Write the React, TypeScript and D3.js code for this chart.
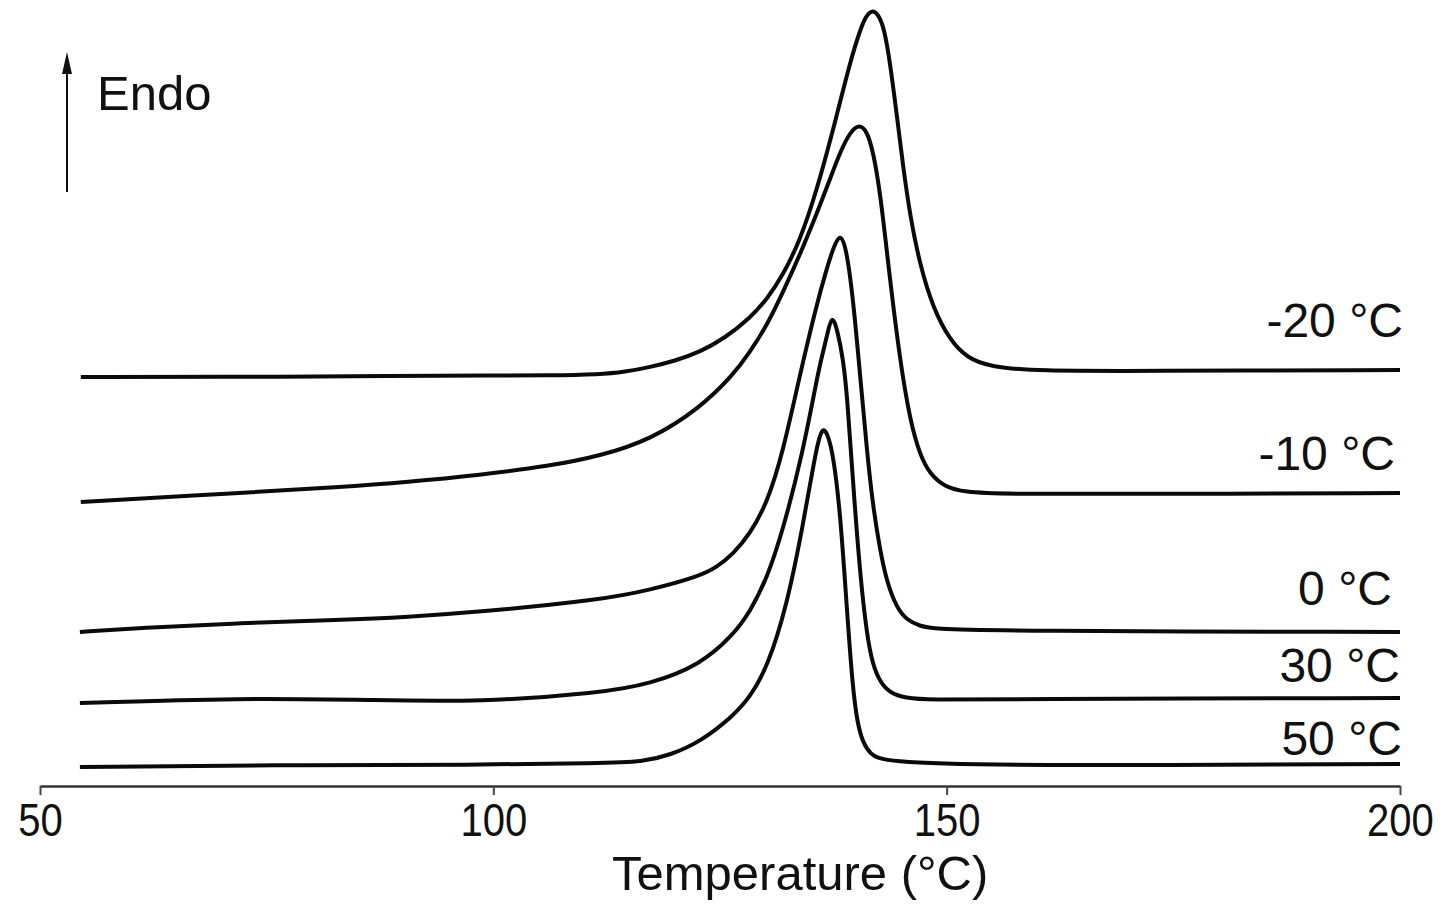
import { useEffect, useRef } from "react";
import * as d3 from "d3";

// DSC heating curves, heat flow in arbitrary units (endo up), one per crystallisation temperature
const temperatureTicks = [50, 100, 150, 200];
const seriesLabels = ["-20 °C", "-10 °C", "0 °C", "30 °C", "50 °C"];

const curveMinus20: [number, number][] = [
  [54.5, 40.9], [70, 40.9], [90, 41.0], [100, 41.05], [106, 41.05],
  [111.8, 41.15], [114.5, 41.4], [117.3, 41.9], [120, 42.5], [122.8, 43.4],
  [125.55, 44.8], [128.3, 46.8], [130.2, 48.7], [131.95, 51.1], [133.8, 54.5],
  [135.7, 59.6], [137.9, 67.1], [139.35, 72.4], [140.45, 75.6], [141.1, 77.0],
  [141.75, 77.6], [142.45, 77.2], [143.1, 75.8], [143.75, 72.4], [144.5, 67.1],
  [145.2, 61.9], [145.95, 57.1], [147.05, 52.1], [148.5, 47.8], [150.35, 44.6],
  [152.25, 42.8], [154.8, 41.9], [160.3, 41.5], [171, 41.5], [200, 41.6],
];

const curveMinus10: [number, number][] = [
  [54.5, 28.4], [72.1, 29.3], [83.1, 29.9], [90.5, 30.4], [98.5, 31.1],
  [106.25, 32.0], [111.75, 33.0], [117.3, 34.6], [122.8, 37.8], [126.45, 41.1],
  [128.3, 43.4], [130.2, 46.1], [131.95, 49.4], [133.8, 53.1], [135.7, 57.3],
  [137.1, 60.6], [138.25, 63.4], [139.35, 65.4], [140.35, 66.2], [141.2, 65.5],
  [141.85, 63.6], [142.65, 59.6], [143.75, 50.6], [144.85, 42.6], [145.95, 36.6],
  [147.05, 33.1], [148.15, 31.2], [149.8, 29.9], [152.0, 29.4], [155.9, 29.2],
  [171.3, 29.2], [200, 29.3],
];

const curveZero: [number, number][] = [
  [54.4, 15.4], [61.0, 15.8], [72.1, 16.3], [83.1, 16.6], [90.5, 16.9],
  [98.5, 17.4], [111.75, 18.6], [117.3, 19.6], [122.8, 21.0], [124.65, 21.9],
  [126.45, 23.2], [128.3, 25.2], [130.2, 28.3], [131.95, 33.4], [133.8, 41.1],
  [135.7, 48.3], [136.8, 51.8], [137.45, 53.7], [138.25, 55.35], [138.9, 53.9],
  [139.65, 49.1], [140.55, 40.1], [141.2, 33.6], [141.85, 28.1], [142.65, 23.6],
  [143.4, 20.4], [144.5, 17.8], [145.6, 16.6], [147.05, 16.0], [148.5, 15.7],
  [155.9, 15.5], [200, 15.4],
];

const curveThirty: [number, number][] = [
  [54.4, 8.3], [72.1, 8.8], [86.7, 8.6], [98.5, 8.4], [111.75, 9.3],
  [117.3, 10.2], [122.8, 12.1], [126.45, 15.1], [128.3, 17.4], [130.2, 20.8],
  [131.95, 25.6], [134.15, 33.4], [135.7, 40.8], [136.25, 43.0], [136.8, 45.0],
  [137.35, 47.3], [138.0, 45.4], [138.55, 42.8], [139.0, 39.4], [139.65, 30.6],
  [140.45, 21.1], [141.2, 15.1], [141.85, 12.1], [142.65, 10.4], [143.75, 9.3],
  [145.4, 8.8], [148.15, 8.6], [155.9, 8.7], [200, 8.8],
];

const curveFifty: [number, number][] = [
  [54.4, 1.9], [75.7, 2.1], [98.5, 2.1], [111.75, 2.3], [116.5, 2.4],
  [119.5, 3.1], [122.8, 4.4], [126.45, 7.0], [128.3, 8.9], [130.2, 11.8],
  [132.4, 18.1], [134.15, 26.1], [135.25, 31.8], [135.8, 34.4], [136.35, 35.95],
  [136.9, 35.1], [137.45, 33.3], [138.25, 27.6], [139.0, 17.6], [139.65, 9.6],
  [140.2, 6.1], [140.75, 4.4], [141.55, 3.2], [143.0, 2.4], [155.9, 2.0],
  [200, 2.2],
];

const allCurves = [curveMinus20, curveMinus10, curveZero, curveThirty, curveFifty];

// label nudges relative to the right end of each curve (pixels)
const labelDx = [3, -5, -8, 0, 2];
const labelDy = [-33, -23, -27, -16, -9];

const FONT = "'Liberation Sans', Arial, sans-serif";

export default function App() {
  const svgRef = useRef<SVGSVGElement | null>(null);

  useEffect(() => {
    if (!svgRef.current) return;
    const svg = d3.select(svgRef.current);
    svg.selectAll("*").remove();

    const width = 1446;
    const height = 905;
    svg.attr("viewBox", `0 0 ${width} ${height}`);

    const x = d3.scaleLinear().domain([50, 200]).range([40, 1400]);
    const y = d3.scaleLinear().domain([0, 80]).range([786, -14]);

    const line = d3
      .line<[number, number]>()
      .x((d) => x(d[0]))
      .y((d) => y(d[1]))
      .curve(d3.curveBasis);

    svg
      .append("g")
      .selectAll("path")
      .data(allCurves)
      .join("path")
      .attr("d", (d) => line(d) ?? "")
      .attr("fill", "none")
      .attr("stroke", "#0a0a0a")
      .attr("stroke-width", 4)
      .attr("stroke-linejoin", "round");

    // curve labels
    svg
      .append("g")
      .selectAll("text")
      .data(seriesLabels)
      .join("text")
      .attr("x", (_, i) => x(200) + labelDx[i])
      .attr("y", (_, i) => y(allCurves[i][allCurves[i].length - 1][1]) + labelDy[i])
      .attr("text-anchor", "end")
      .attr("font-family", FONT)
      .attr("font-size", 48)
      .attr("fill", "#111")
      .text((d) => d);

    // x axis
    const axis = svg
      .append("g")
      .attr("transform", `translate(0,${y(0)})`)
      .call(
        d3
          .axisBottom(x)
          .tickValues(temperatureTicks)
          .tickSize(9)
          .tickSizeOuter(0)
          .tickFormat(d3.format("d")),
      );
    axis.select(".domain").attr("stroke", "#333").attr("stroke-width", 2.5);
    axis.selectAll(".tick line").attr("stroke", "#444").attr("stroke-width", 2);
    axis
      .selectAll(".tick text")
      .attr("y", 17)
      .attr("font-family", FONT)
      .attr("font-size", 46)
      .attr("fill", "#111")
      .attr("transform", "scale(0.87,1)");

    svg
      .append("text")
      .attr("x", 612)
      .attr("y", 890)
      .attr("font-family", FONT)
      .attr("font-size", 49)
      .attr("fill", "#111")
      .text("Temperature (°C)");

    // Endo arrow
    svg
      .append("line")
      .attr("x1", 67)
      .attr("x2", 67)
      .attr("y1", 192)
      .attr("y2", 66)
      .attr("stroke", "#111")
      .attr("stroke-width", 2);
    svg
      .append("path")
      .attr("d", "M67,52 L62,74 L72,74 Z")
      .attr("fill", "#111");
    svg
      .append("text")
      .attr("x", 97)
      .attr("y", 110)
      .attr("font-family", FONT)
      .attr("font-size", 49)
      .attr("fill", "#111")
      .text("Endo");
  }, []);

  return (
    <svg
      ref={svgRef}
      width={1446}
      height={905}
      style={{ position: "absolute", left: 0, top: 0, background: "#fff" }}
    />
  );
}
